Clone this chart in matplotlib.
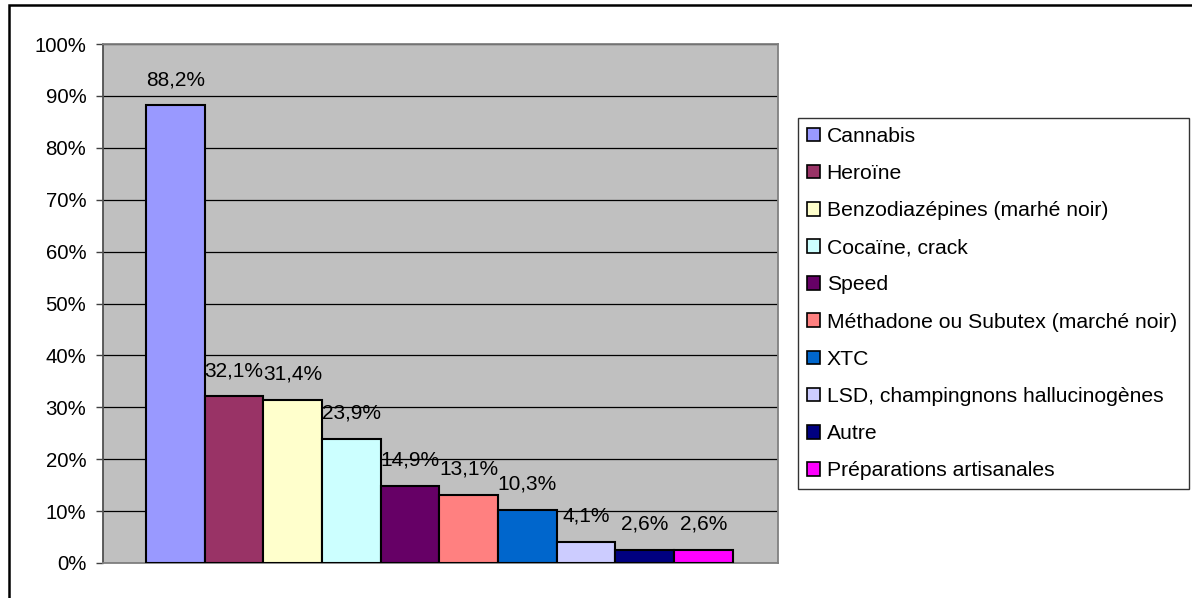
import matplotlib
matplotlib.use('Agg')
import matplotlib.pyplot as plt
from matplotlib.patches import Patch, Rectangle

plt.rcParams['font.family'] = ['Liberation Sans', 'DejaVu Sans']

categories = ['Cannabis', 'Heroïne', 'Benzodiazépines (marhé noir)', 'Cocaïne, crack',
              'Speed', 'Méthadone ou Subutex (marché noir)', 'XTC',
              'LSD, champingnons hallucinogènes', 'Autre', 'Préparations artisanales']
values = [88.2, 32.1, 31.4, 23.9, 14.9, 13.1, 10.3, 4.1, 2.6, 2.6]
colors = ['#9999FF', '#993366', '#FFFFCC', '#CCFFFF', '#660066',
          '#FF8080', '#0066CC', '#CCCCFF', '#000080', '#FF00FF']
yticks = [0, 10, 20, 30, 40, 50, 60, 70, 80, 90, 100]

W, H = 1192, 598
fig = plt.figure(figsize=(W / 100, H / 100), dpi=100)
ax = fig.add_axes([103 / W, 1 - 563 / H, 675 / W, 519 / H])
ax.set_facecolor('#C0C0C0')

xs = list(range(len(values)))
ax.bar(xs, values, width=1, align='edge', color=colors, edgecolor='black', linewidth=1.5, zorder=3)

for x, v in zip(xs, values):
    ax.annotate(f'{v:.1f}%'.replace('.', ','), (x + 0.5, v), xytext=(0, 18.5),
                textcoords='offset points', ha='center', va='center', fontsize=15, zorder=4)

ax.set_xlim(-0.733, 10.77)
ax.set_ylim(0, 100)
ax.set_yticks(yticks)
ax.set_yticklabels([f'{t}%' for t in yticks], fontsize=14.7)
ax.tick_params(axis='y', length=5, width=1, color='#404040', pad=7)
ax.set_xticks([])
ax.yaxis.grid(True, color='#000000', linewidth=0.9, zorder=1)
ax.set_axisbelow(True)
for s in ax.spines.values():
    s.set_color('#808080')
    s.set_linewidth(1.3)
ax.spines['left'].set_color('#505050')

handles = [Patch(facecolor=c, edgecolor='black', linewidth=1.2) for c in colors]
leg = fig.legend(handles, categories, loc='upper left',
                 bbox_to_anchor=(798 / W, 1 - 488 / H, 391 / W, 370 / H), mode='expand',
                 fontsize=15.2, handlelength=0.62, handleheight=0.62, handletextpad=0.32,
                 labelspacing=0.86, borderpad=0.42, borderaxespad=0, fancybox=False)
leg.get_frame().set_edgecolor('black')
leg.get_frame().set_linewidth(1.0)

# chart area border, cut off on the right and bottom like the reference
fig.patches.append(Rectangle((9 / W, -0.1), 1.1, 1.1 - 5 / H, transform=fig.transFigure,
                             fill=False, edgecolor='black', linewidth=1.8, clip_on=False))

fig.savefig('out.png', dpi=100)
